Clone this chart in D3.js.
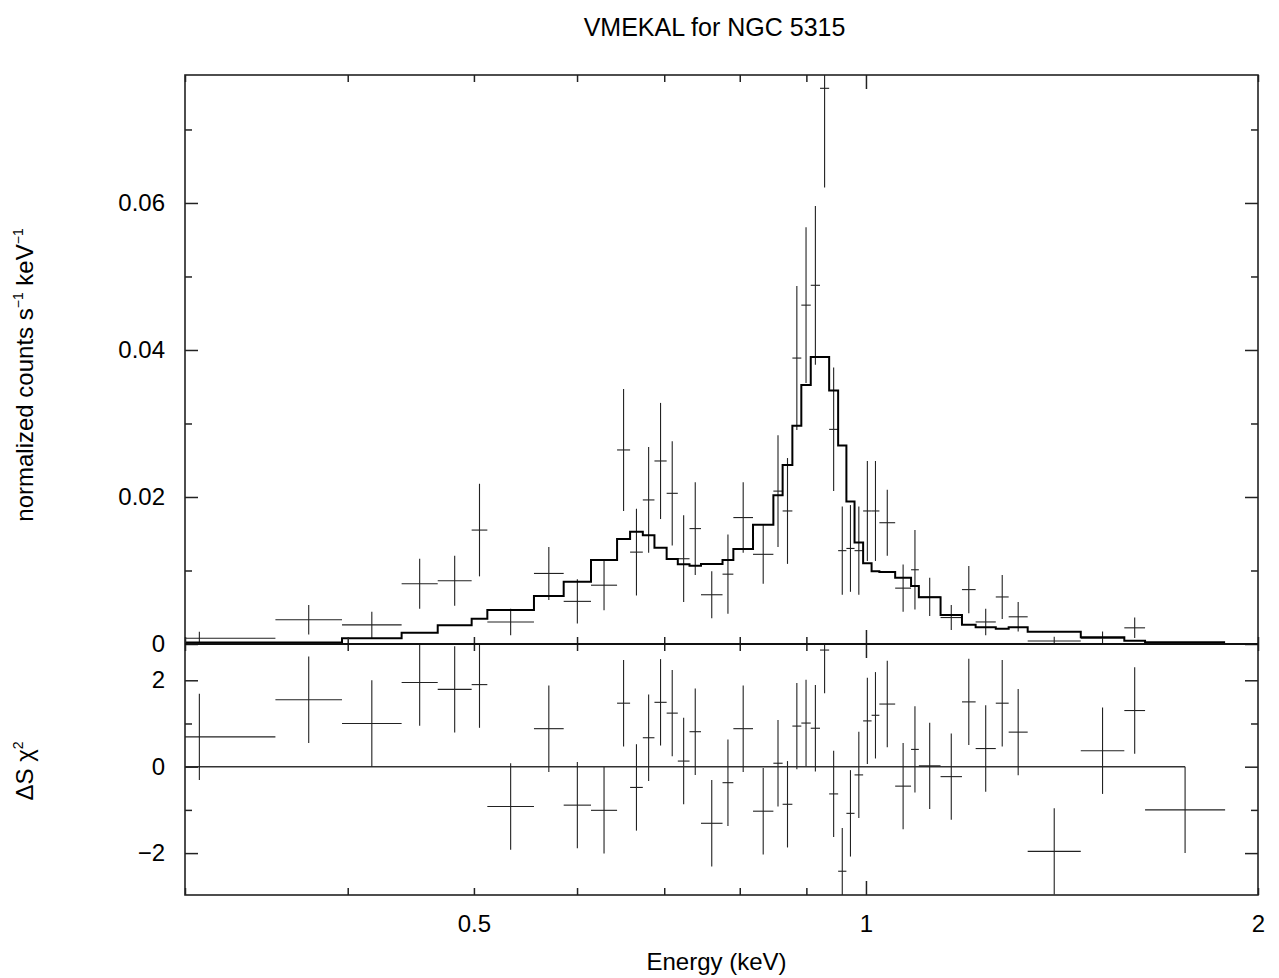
<!DOCTYPE html>
<html>
<head>
<meta charset="utf-8">
<script src="https://cdn.jsdelivr.net/npm/d3@7"></script>
<style>
  body { margin: 0; background: #fff; }
  text { font-family: "Liberation Sans", Arial, Helvetica, sans-serif; fill: #000; }
</style>
</head>
<body>
<script>
// bords des canaux (keV)
const binEdges = [0.269, 0.352, 0.396, 0.440, 0.469, 0.498, 0.512, 0.556, 0.586, 0.615,
  0.644, 0.659, 0.674, 0.688, 0.703, 0.717, 0.732, 0.747, 0.776, 0.791,
  0.819, 0.849, 0.863, 0.878, 0.892, 0.907, 0.922, 0.937, 0.952, 0.966,
  0.980, 0.995, 1.010, 1.024, 1.053, 1.083, 1.098, 1.141, 1.185, 1.214,
  1.258, 1.287, 1.331, 1.462, 1.579, 1.638, 1.887];
// données normalisées (counts s^-1 keV^-1)
const counts = [0.00078, 0.0033, 0.0026, 0.0082, 0.0086, 0.0155, 0.0030, 0.0096, 0.0058, 0.0080,
  0.0264, 0.0125, 0.0196, 0.0249, 0.0205, 0.0116, 0.0157, 0.0067, 0.0095, 0.0172,
  0.0122, 0.0208, 0.0181, 0.0389, 0.0461, 0.0488, 0.0756, 0.0292, 0.0127, 0.0130,
  0.0127, 0.0181, 0.0181, 0.0165, 0.0076, 0.0101, 0.0064, 0.0036, 0.0074, 0.0030,
  0.0064, 0.0037, 0.0004, 0.0008, 0.0022, 0.0001];
const countErr = [0.0009, 0.0020, 0.0018, 0.0034, 0.0034, 0.0063, 0.0018, 0.0036, 0.0030, 0.0034,
  0.0083, 0.0059, 0.0072, 0.0079, 0.0071, 0.0059, 0.0063, 0.0032, 0.0054, 0.0048,
  0.0040, 0.0076, 0.0072, 0.0098, 0.0106, 0.0108, 0.0135, 0.0084, 0.0060, 0.0059,
  0.0060, 0.0068, 0.0068, 0.0045, 0.0032, 0.0054, 0.0026, 0.0017, 0.0032, 0.0018,
  0.0030, 0.0020, 0.0006, 0.0009, 0.0014, 0.0001];
// modèle VMEKAL
const model = [0.0002, 0.0002, 0.00078, 0.00154, 0.00254, 0.00345, 0.00463, 0.00653, 0.00848, 0.01143,
  0.01429, 0.01528, 0.01479, 0.0131, 0.01156, 0.01084, 0.01066, 0.01088, 0.01143, 0.01293,
  0.01624, 0.02023, 0.02435, 0.0297, 0.03525, 0.03905, 0.03905, 0.0345, 0.027, 0.01937,
  0.01382, 0.0110, 0.0099, 0.0098, 0.0090, 0.0079, 0.00635, 0.00395, 0.00263, 0.00227,
  0.00209, 0.00227, 0.00168, 0.00091, 0.00045, 0.00023];
// résidus (sign * delta chi)
const resid = [0.69, 1.55, 1.00, 1.95, 1.79, 1.90, -0.92, 0.88, -0.89, -1.01,
  1.47, -0.48, 0.67, 1.49, 1.24, 0.13, 0.81, -1.31, -0.37, 0.88,
  -1.03, 0.08, -0.87, 0.94, 1.01, 0.89, 2.70, -0.63, -2.42, -1.08,
  -0.19, 1.06, 1.19, 1.45, -0.45, 0.40, 0.02, -0.23, 1.50, 0.42,
  1.47, 0.80, -1.96, 0.37, 1.30, -1.00];

const xTicks = [0.3, 0.4, 0.5, 0.6, 0.7, 0.8, 0.9, 1, 2];
const xLabels = [0.5, 1, 2];
const yTopMajor = [0, 0.02, 0.04, 0.06];
const yTopMinor = [0.01, 0.03, 0.05, 0.07];
const yBotMajor = [-2, 0, 2];
const yBotMinor = [-1, 1];

const L = 185, R = 1258, T = 75, M = 644, B = 895;

const svg = d3.select('body').append('svg')
  .attr('width', 1279).attr('height', 978);

const x = d3.scaleLog().domain([0.3, 2]).range([L, R]);
const yTop = d3.scaleLinear().domain([0, 0.07741]).range([M, T]);
const yBot = d3.scaleLinear().domain([-2.97, 2.84]).range([B, M]);

const bins = counts.map((v, i) => ({
  lo: binEdges[i], hi: binEdges[i + 1],
  c: Math.sqrt(binEdges[i] * binEdges[i + 1]),
  v: v, e: countErr[i], m: model[i], r: resid[i]
}));

const defs = svg.append('defs');
defs.append('clipPath').attr('id', 'clipTop')
  .append('rect').attr('x', L).attr('y', T).attr('width', R - L).attr('height', M - T);
defs.append('clipPath').attr('id', 'clipBot')
  .append('rect').attr('x', L).attr('y', M).attr('width', R - L).attr('height', B - M);

// panneau du haut
const gTop = svg.append('g').attr('clip-path', 'url(#clipTop)');
gTop.selectAll('line.h').data(bins).enter().append('line')
  .attr('x1', d => x(d.lo)).attr('x2', d => x(d.hi))
  .attr('y1', d => yTop(d.v)).attr('y2', d => yTop(d.v))
  .attr('stroke', '#222').attr('stroke-width', 1.1);
gTop.selectAll('line.v').data(bins).enter().append('line')
  .attr('x1', d => x(d.c)).attr('x2', d => x(d.c))
  .attr('y1', d => yTop(d.v - d.e)).attr('y2', d => yTop(d.v + d.e))
  .attr('stroke', '#222').attr('stroke-width', 1.1);

const stepPts = bins.map(d => [d.lo, d.m]).concat([[binEdges[binEdges.length - 1], model[model.length - 1]]]);
gTop.append('path')
  .attr('d', d3.line().x(d => x(d[0])).y(d => yTop(d[1])).curve(d3.curveStepAfter)(stepPts))
  .attr('fill', 'none').attr('stroke', '#000').attr('stroke-width', 2);

// panneau des résidus
const gBot = svg.append('g').attr('clip-path', 'url(#clipBot)');
gBot.append('line')
  .attr('x1', L).attr('x2', x(bins[bins.length - 1].c))
  .attr('y1', yBot(0)).attr('y2', yBot(0))
  .attr('stroke', '#333').attr('stroke-width', 1.4);
gBot.selectAll('line.h').data(bins).enter().append('line')
  .attr('x1', d => x(d.lo)).attr('x2', d => x(d.hi))
  .attr('y1', d => yBot(d.r)).attr('y2', d => yBot(d.r))
  .attr('stroke', '#222').attr('stroke-width', 1.1);
gBot.selectAll('line.v').data(bins).enter().append('line')
  .attr('x1', d => x(d.c)).attr('x2', d => x(d.c))
  .attr('y1', d => yBot(d.r - 1)).attr('y2', d => yBot(d.r + 1))
  .attr('stroke', '#222').attr('stroke-width', 1.1);

// axes
function styleAxis(g) {
  g.select('.domain').remove();
  g.selectAll('.tick line').attr('stroke', '#222').attr('stroke-width', 1.5);
  g.selectAll('.tick text').attr('font-size', 24)
    .attr('font-family', '"Liberation Sans", Arial, sans-serif').attr('fill', '#000');
}
const xLen = d => (d === 1 ? 14 : 7);

// axe x en bas (avec étiquettes)
svg.append('g').attr('transform', `translate(0,${B})`)
  .call(d3.axisBottom(x).tickValues(xTicks).tickSize(-7).tickPadding(20)
    .tickFormat(d => xLabels.includes(d) ? d3.format('')(d) : ''))
  .call(styleAxis)
  .call(g => g.selectAll('.tick line').attr('y2', d => -xLen(d)));
// autres bords horizontaux
[[M, -1], [M, 1], [T, 1]].forEach(([yy, s]) => {
  svg.append('g').attr('transform', `translate(0,${yy})`)
    .call(d3.axisBottom(x).tickValues(xTicks).tickSize(0).tickFormat(''))
    .call(styleAxis)
    .call(g => g.selectAll('.tick line').attr('y2', d => s * xLen(d)));
});

// axes y
function yAxes(scale, major, minor, fmt) {
  svg.append('g').attr('transform', `translate(${L},0)`)
    .call(d3.axisLeft(scale).tickValues(major).tickSize(-13).tickPadding(20).tickFormat(fmt))
    .call(styleAxis);
  svg.append('g').attr('transform', `translate(${L},0)`)
    .call(d3.axisLeft(scale).tickValues(minor).tickSize(-7).tickFormat(''))
    .call(styleAxis);
  svg.append('g').attr('transform', `translate(${R},0)`)
    .call(d3.axisRight(scale).tickValues(major).tickSize(-13).tickFormat(''))
    .call(styleAxis);
  svg.append('g').attr('transform', `translate(${R},0)`)
    .call(d3.axisRight(scale).tickValues(minor).tickSize(-7).tickFormat(''))
    .call(styleAxis);
}
yAxes(yTop, yTopMajor, yTopMinor, d => d === 0 ? '0' : d3.format('.2f')(d));
yAxes(yBot, yBotMajor, yBotMinor, d => d < 0 ? '\u2212' + Math.abs(d) : String(d));

// cadre
svg.append('rect').attr('x', L).attr('y', T).attr('width', R - L).attr('height', B - T)
  .attr('fill', 'none').attr('stroke', '#222').attr('stroke-width', 1.6);
svg.append('line').attr('x1', L).attr('x2', R).attr('y1', M).attr('y2', M)
  .attr('stroke', '#111').attr('stroke-width', 2);

// textes
svg.append('text').attr('x', (L + R) / 2 - 7).attr('y', 36)
  .attr('text-anchor', 'middle').attr('font-size', 25).text('VMEKAL for NGC 5315');
svg.append('text').attr('x', (L + R) / 2 - 5).attr('y', 970)
  .attr('text-anchor', 'middle').attr('font-size', 24).text('Energy (keV)');

const yl = svg.append('text')
  .attr('transform', 'translate(33,375) rotate(-90)')
  .attr('text-anchor', 'middle').attr('font-size', 24);
yl.append('tspan').text('normalized counts s');
yl.append('tspan').attr('font-size', 14).attr('dy', -10).text('\u22121');
yl.append('tspan').attr('dy', 10).text(' keV');
yl.append('tspan').attr('font-size', 14).attr('dy', -10).text('\u22121');

const rl = svg.append('text')
  .attr('transform', 'translate(33,771) rotate(-90)')
  .attr('text-anchor', 'middle').attr('font-size', 24);
rl.append('tspan').text('\u0394S \u03c7');
rl.append('tspan').attr('font-size', 14).attr('dy', -10).text('2');
</script>
</body>
</html>
